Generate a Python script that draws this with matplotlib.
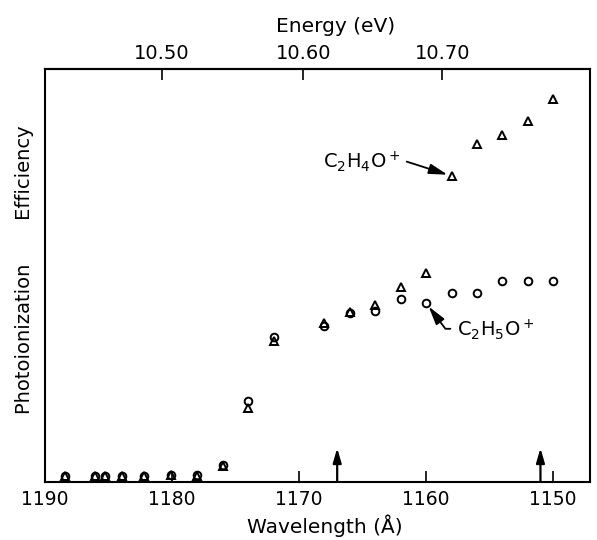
import matplotlib
matplotlib.use('Agg')
import matplotlib.pyplot as plt
import numpy as np

plt.rcParams['font.family'] = ['DejaVu Sans']
plt.rcParams['mathtext.fontset'] = 'dejavusans'

# ---- data ----
wavelength = [1188.4, 1186.1, 1185.3, 1183.9, 1182.2, 1180.1, 1178.0, 1176.0, 1174.0, 1172.0,
              1168.0, 1166.0, 1164.0, 1162.0, 1160.0, 1158.0, 1156.0, 1154.0, 1152.0, 1150.0]
c2h4o_eff = [1.5, 1.5, 1.5, 1.5, 1.5, 1.7, 1.5, 3.9, 17.9, 34.1,
             38.5, 41.1, 42.9, 47.1, 50.7, 74.1, 81.8, 84.0, 87.4, 92.7]
c2h5o_eff = [1.5, 1.5, 1.5, 1.5, 1.5, 1.7, 1.7, 4.1, 19.6, 35.1,
             37.8, 40.9, 41.5, 44.3, 43.3, 45.8, 45.8, 48.7, 48.7, 48.7]
marked_wavelengths = [1167.0, 1151.0]
marker_arrow_height = 8.2
x_ticks = [1190, 1180, 1170, 1160, 1150]
x_tick_labels = ['1190', '1180', '1170', '1160', '1150']
energy_ticks = [10.50, 10.60, 10.70]
energy_tick_labels = ['10.50', '10.60', '10.70']

HC = 12398.4  # eV * Angstrom


def wl_to_ev(x):
    x = np.asarray(x, dtype=float)
    with np.errstate(divide='ignore', invalid='ignore'):
        return HC / x


fig = plt.figure(figsize=(5.97, 5.40), dpi=100)
ax = fig.add_axes([45 / 597, 58 / 540, 545 / 597, 413 / 540])

ax.plot(wavelength, c2h4o_eff, linestyle='none', marker='^', ms=6.2,
        mfc='none', mec='black', mew=1.4)
ax.plot(wavelength, c2h5o_eff, linestyle='none', marker='o', ms=5.5,
        mfc='none', mec='black', mew=1.4)

ax.set_xlim(1190, 1147.1)
ax.set_ylim(0, 100)
ax.set_xticks(x_ticks)
ax.set_xticklabels(x_tick_labels)
ax.set_yticks([])
ax.tick_params(axis='x', direction='in', length=8, width=1.2, pad=6, labelsize=13.5)
for sp in ax.spines.values():
    sp.set_linewidth(1.5)

sec = ax.secondary_xaxis('top', functions=(wl_to_ev, wl_to_ev))
sec.set_xticks(energy_ticks)
sec.set_xticklabels(energy_tick_labels)
sec.tick_params(direction='in', length=8, width=1.2, pad=4, labelsize=14)
sec.spines['top'].set_linewidth(1.5)

# vertical marker arrows
for wl in marked_wavelengths:
    ax.annotate('', xy=(wl, marker_arrow_height), xytext=(wl, 0),
                arrowprops=dict(arrowstyle='-|>,head_length=0.86,head_width=0.25',
                                color='black', lw=1.6, shrinkA=0, shrinkB=0))

# labels of the two series
ax.annotate(r'C$_2$H$_4$O$^+$', xy=(1158.0, 74.1), xytext=(1165.1, 77.5),
            ha='center', va='center', fontsize=14,
            arrowprops=dict(arrowstyle='-|>,head_length=0.8,head_width=0.22',
                            color='black', lw=1.3, relpos=(1, 0.6),
                            shrinkA=3, shrinkB=3))
ax.annotate(r'C$_2$H$_5$O$^+$', xy=(1160.0, 43.3), xytext=(1154.5, 36.8),
            ha='center', va='center', fontsize=14,
            arrowprops=dict(arrowstyle='-|>,head_length=0.8,head_width=0.22',
                            color='black', lw=1.3, relpos=(0, 0.55),
                            connectionstyle='angle,angleA=0,angleB=-53,rad=0',
                            shrinkA=3, shrinkB=3))

ax.text(0.514, -0.107, 'Wavelength (Å)', transform=ax.transAxes,
        ha='center', va='center', fontsize=14.5)
ax.text(0.534, 1.104, 'Energy (eV)', transform=ax.transAxes,
        ha='center', va='center', fontsize=14.5)
ax.text(-0.037, 0.513, 'Photoionization       Efficiency', transform=ax.transAxes,
        rotation=90, ha='center', va='center', fontsize=14)

fig.savefig('out.png', dpi=100)
